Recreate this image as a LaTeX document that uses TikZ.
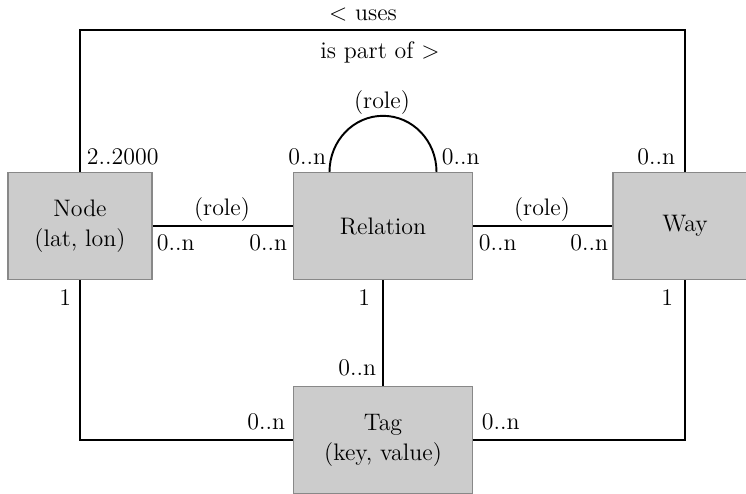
\documentclass[tikz,border=0pt]{standalone}
\usepackage{tikz}

\definecolor{boxfill}{RGB}{204,204,204}
\definecolor{boxline}{RGB}{136,136,136}

\begin{document}
\begin{tikzpicture}[x=0.02cm, y=-0.02cm, line width=1.1pt,
    font=\fontsize{13.6}{17}\selectfont,
    entity/.style={draw=boxline, line width=0.8pt, fill=boxfill, minimum height=2.14cm, align=center},
    lbl/.style={inner sep=0pt}]
    \useasboundingbox (0,0) rectangle (746,493);

    % ENTITATS
    \node[entity, minimum width=2.88cm] (nd) at (80,226) {Node\\(lat, lon)};
    \node[entity, minimum width=3.58cm] (rel) at (383,226) {Relation};
    \node[entity, minimum width=2.88cm] (way) at (685,226) {Way};
    \node[entity, minimum width=3.58cm] (tag) at (383,440) {Tag\\(key, value)};

    % CONNEXIONS
    \coordinate (top) at (382,30);
    \draw (nd.north) |- (top) -| (way.north);
    \draw (nd) -- (rel);
    \draw (rel) -- (way);
    \draw (rel) -- (tag);
    \draw (nd.south) |- (tag.west);
    \draw (way.south) |- (tag.east);
    % Relacio amb si mateixa
    \draw ([xshift=-1.07cm]rel.north) arc[start angle=180, end angle=0, x radius=1.07cm, y radius=1.12cm];

    % ETIQUETES
    \node[lbl] (uses) at (363,15) {< uses};
    \node[lbl] (part) at (380,52) {is part of >};
    \foreach \p/\a/\t [count=\i] in {(382,103)/center/(role), (222,210)/center/(role), (542,210)/center/(role)} {
        \node[lbl, anchor=\a] (r\i) at \p {\t};
    }
    \foreach \p/\a/\t [count=\i] in {(86,157)/west/2..2000, (327,157)/east/0..n, (441,157)/west/0..n,
        (676,157)/east/0..n, (156,243)/west/0..n, (288,243)/east/0..n, (478,243)/west/0..n,
        (609,243)/east/0..n, (72,298)/east/1, (371,298)/east/1, (674,298)/east/1,
        (377,368)/east/0..n, (286,422)/east/0..n, (481,422)/west/0..n} {
        \node[lbl, anchor=\a] (m\i) at \p {\t};
    }

\end{tikzpicture}
\end{document}
